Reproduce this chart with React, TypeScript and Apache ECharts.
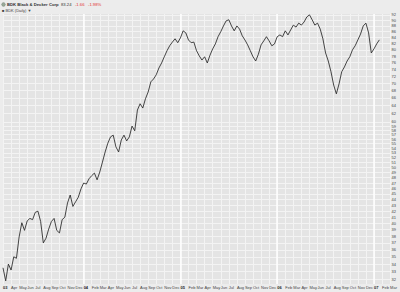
import { useEffect, useRef } from 'react';
import * as echarts from 'echarts';

// x-axis month tick labels, Mar 2003 .. Mar 2007 (month index 0..48)
const xTickLabels = [
  '03', 'Apr', 'May', 'Jun', 'Jul', 'Aug', 'Sep', 'Oct', 'Nov', 'Dec',
  '04', 'Feb', 'Mar', 'Apr', 'May', 'Jun', 'Jul', 'Aug', 'Sep', 'Oct', 'Nov', 'Dec',
  '05', 'Feb', 'Mar', 'Apr', 'May', 'Jun', 'Jul', 'Aug', 'Sep', 'Oct', 'Nov', 'Dec',
  '06', 'Feb', 'Mar', 'Apr', 'May', 'Jun', 'Jul', 'Aug', 'Sep', 'Oct', 'Nov', 'Dec',
  '07', 'Feb', 'Mar',
];

// samples taken on the 1st, 11th and 21st of each month from Mar 2003
const samplesPerMonth = 3;
const prices = [
  33.5, 31.8, 34.0, 33.2, 35.0, 34.8, 37.9, 40.1, 38.9, 40.4,
  40.8, 40.6, 41.8, 42.0, 40.3, 37.0, 37.7, 39.1, 40.3, 40.8,
  38.9, 38.5, 40.6, 41.0, 43.4, 44.8, 42.8, 43.6, 44.4, 45.9,
  47.0, 46.8, 47.8, 48.4, 48.9, 47.6, 49.1, 51.1, 53.2, 55.1,
  56.5, 56.9, 54.3, 53.2, 55.8, 56.9, 55.6, 56.5, 59.0, 57.9,
  62.9, 64.5, 63.4, 65.8, 67.6, 70.4, 71.2, 72.4, 74.4, 75.9,
  77.8, 79.7, 81.3, 82.5, 83.6, 82.3, 83.9, 86.3, 85.6, 83.2,
  82.3, 82.5, 79.7, 78.1, 76.8, 77.8, 75.9, 78.3, 80.3, 81.9,
  84.3, 86.0, 88.0, 89.8, 90.2, 88.0, 86.3, 88.0, 86.9, 84.6,
  83.2, 81.6, 79.7, 77.8, 76.5, 78.6, 81.6, 82.9, 84.3, 82.9,
  81.3, 81.9, 84.3, 84.9, 84.3, 86.3, 84.9, 86.6, 88.3, 87.6,
  89.0, 88.3, 89.4, 91.2, 92.0, 90.2, 88.3, 89.0, 86.9, 83.6,
  79.0, 76.5, 73.3, 69.5, 67.1, 69.8, 73.3, 74.7, 76.5, 77.8,
  80.0, 81.3, 83.2, 85.2, 88.0, 89.0, 85.6, 79.0, 80.3, 81.9,
  83.24,
];

// right-hand price scale labels (log scale)
const priceTicks = [
  32, 33, 34, 35, 36, 37, 38, 39, 40, 41, 42, 43, 44, 45, 46, 47, 48, 49, 50,
  51, 52, 53, 54, 55, 56, 57, 58, 59, 60,
  62, 64, 66, 68, 70, 72, 74, 76, 78, 80, 82, 84, 86, 88, 90, 92,
];

const yearTickIndexes = [10, 22, 34, 46];

export default function App() {
  const ref = useRef<HTMLDivElement>(null);

  useEffect(() => {
    if (!ref.current) return;
    const chart = echarts.init(ref.current, undefined, { renderer: 'svg' });
    const font = 'Liberation Sans, Arial, sans-serif';

    const seriesData = prices.map((p, k) => [k / samplesPerMonth, p]);

    chart.setOption({
      animation: false,
      backgroundColor: '#ececec',
      textStyle: { fontFamily: font },
      graphic: [
        {
          type: 'circle',
          shape: { cx: 3.5, cy: 4.5, r: 1.8 },
          style: { fill: '#9a9', stroke: '#676', lineWidth: 0.5 },
        },
        {
          type: 'text',
          left: 7,
          top: 2,
          style: {
            text: '{a|BDK Black & Decker Corp}  {b|83.24}   {c|-1.66   -1.98%}',
            fontFamily: font,
            fontSize: 4.2,
            rich: {
              a: { fontSize: 4.2, fontWeight: 'bold', fill: '#333', fontFamily: font },
              b: { fontSize: 4.2, fill: '#333', fontFamily: font },
              c: { fontSize: 4.2, fill: '#e23030', fontFamily: font },
            },
          },
        },
        {
          type: 'text',
          left: 2,
          top: 8,
          style: {
            text: '■ BDK (Daily) ▼',
            fontFamily: font,
            fontSize: 4,
            fill: '#444',
          },
        },
      ],
      grid: {
        left: 1,
        right: 7,
        top: 14,
        bottom: 8,
        show: true,
        backgroundColor: '#e4e4e4',
        borderWidth: 0,
      },
      xAxis: {
        type: 'value',
        min: 0,
        max: 48,
        interval: 1,
        axisLine: { show: false },
        axisTick: { show: false },
        splitLine: { show: true, lineStyle: { color: '#f3f3f3', width: 1 } },
        axisLabel: {
          fontSize: 4,
          color: '#444',
          margin: 1.5,
          align: 'left',
          fontFamily: font,
          formatter: (v: number) => {
            const s = xTickLabels[Math.round(v)] ?? '';
            return /^\d/.test(s) ? `{y|${s}}` : s;
          },
          rich: {
            y: { fontSize: 4, fontWeight: 'bold', color: '#222', fontFamily: font },
          },
        },
      },
      yAxis: {
        type: 'log',
        logBase: 10,
        min: 31.4,
        max: 92.3,
        position: 'right',
        axisLine: { show: false },
        axisTick: { show: false },
        axisLabel: { show: false },
        splitLine: { show: false },
      },
      series: [
        {
          type: 'line',
          data: seriesData,
          showSymbol: false,
          symbol: 'none',
          z: 5,
          lineStyle: { color: '#262626', width: 0.85 },
          markLine: {
            silent: true,
            symbol: 'none',
            z: 1,
            animation: false,
            lineStyle: { color: '#f3f3f3', width: 1, type: 'solid' },
            label: {
              show: true,
              position: 'end',
              distance: 1.5,
              fontSize: 4,
              color: '#444',
              fontFamily: font,
              formatter: (p: any) => String(p.value),
            },
            data: [
              ...priceTicks.map((v) => ({ yAxis: v })),
              ...yearTickIndexes.map((i) => ({
                xAxis: i,
                lineStyle: { color: '#ffffff', width: 1.5, type: 'solid' },
                label: { show: false },
              })),
            ],
          },
        },
      ],
    });

    return () => chart.dispose();
  }, []);

  return (
    <div
      ref={ref}
      style={{ position: 'fixed', left: 0, top: 0, width: 400, height: 292 }}
    />
  );
}
